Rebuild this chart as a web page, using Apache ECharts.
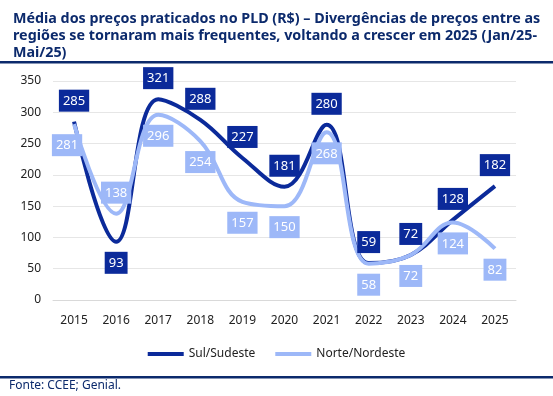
<!DOCTYPE html>
<html>
<head>
<meta charset="utf-8">
<script src="https://cdn.jsdelivr.net/npm/echarts@6/dist/echarts.min.js"></script>
<style>
    html, body { margin: 0; padding: 0; background: #fff; }
    #chart { width: 553px; height: 396px; }
</style>
</head>
<body>
<div id="chart"></div>
<script>
    // dados
    var anos = ['2015', '2016', '2017', '2018', '2019', '2020', '2021', '2022', '2023', '2024', '2025'];
    var sulSudeste = [285, 93, 321, 288, 227, 181, 280, 59, 72, 128, 182];
    var norteNordeste = [281, 138, 296, 254, 157, 150, 268, 58, 72, 124, 82];
    var yTicks = [0, 50, 100, 150, 200, 250, 300, 350];

    var corEscura = '#0b2a9a';
    var corClara = '#9db8f8';
    var corTitulo = '#0c2a6c';
    var fonte = '"Noto Sans", sans-serif';

    // rótulo padrão de cada série, com exceção do ponto de 2016
    function montaDados(valores, posExcecao, deslocaPrimeiro) {
        return valores.map(function (v, i) {
            if (i === 1) {
                return {value: v, label: {position: posExcecao}};
            }
            if (i === 0 && deslocaPrimeiro) {
                return {value: v, label: {offset: [-7, 0]}};
            }
            return v;
        });
    }

    function labelCfg(cor, pos) {
        return {
            show: true,
            position: pos,
            distance: 10,
            color: '#fff',
            backgroundColor: cor,
            padding: [5, 4, 4, 4],
            fontFamily: fonte,
            fontSize: 13
        };
    }

    var option = {
        animation: false,
        backgroundColor: '#fff',
        textStyle: {fontFamily: fonte},
        title: {
            text: 'Média dos preços praticados no PLD (R$) – Divergências de preços entre as\nregiões se tornaram mais frequentes, voltando a crescer em 2025 (Jan/25-\nMai/25)',
            left: 8,
            top: 6,
            textStyle: {
                fontFamily: fonte,
                fontWeight: 'bold',
                fontSize: 14.3,
                lineHeight: 16.7,
                color: corTitulo
            }
        },
        legend: {
            top: 343,
            left: 'center',
            itemWidth: 36,
            itemHeight: 4,
            itemGap: 20,
            icon: 'rect',
            textStyle: {fontFamily: fonte, fontSize: 12, color: '#222'},
            data: ['Sul/Sudeste', 'Norte/Nordeste']
        },
        grid: {left: 53, right: 37, top: 81, bottom: 96},
        xAxis: {
            type: 'category',
            data: anos,
            axisLine: {lineStyle: {color: '#d9d9d9'}},
            axisTick: {show: false},
            axisLabel: {color: '#222', fontSize: 12, margin: 15}
        },
        yAxis: {
            type: 'value',
            min: yTicks[0],
            max: yTicks[yTicks.length - 1],
            interval: 50,
            axisLine: {show: false},
            axisTick: {show: false},
            axisLabel: {color: '#222', fontSize: 12, margin: 12},
            splitLine: {lineStyle: {color: '#e6e6e6'}}
        },
        graphic: [
            {type: 'rect', shape: {x: 0, y: 61, width: 553, height: 2.5}, style: {fill: corTitulo}},
            {type: 'rect', shape: {x: 0, y: 376, width: 553, height: 2.5}, style: {fill: corTitulo}},
            {
                type: 'text', left: 9, top: 380,
                style: {text: 'Fonte: CCEE; Genial.', fill: corTitulo, font: '12px "Noto Sans", sans-serif'}
            }
        ],
        series: [
            {
                name: 'Sul/Sudeste',
                type: 'line',
                smooth: 0.4,
                symbol: 'circle',
                symbolSize: 0,
                lineStyle: {width: 4, color: corEscura},
                itemStyle: {color: corEscura},
                label: labelCfg(corEscura, 'top'),
                data: montaDados(sulSudeste, 'bottom', false)
            },
            {
                name: 'Norte/Nordeste',
                type: 'line',
                smooth: 0.4,
                symbol: 'circle',
                symbolSize: 0,
                lineStyle: {width: 4, color: corClara},
                itemStyle: {color: corClara},
                label: labelCfg(corClara, 'bottom'),
                data: montaDados(norteNordeste, 'top', true)
            }
        ]
    };

    var myChart = echarts.init(document.getElementById('chart'));
    myChart.setOption(option);
</script>
</body>
</html>
